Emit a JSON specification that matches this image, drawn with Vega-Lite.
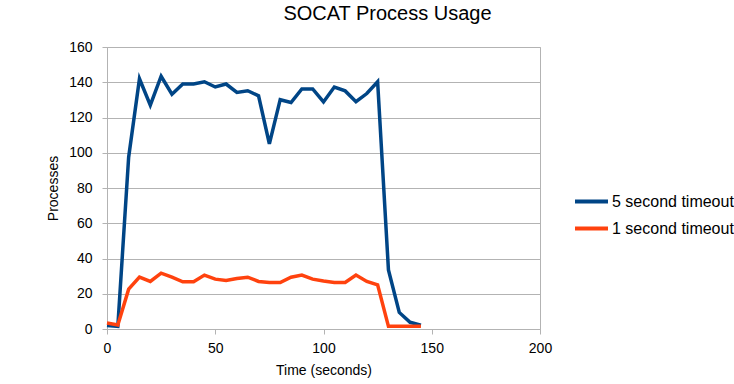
{
  "$schema": "https://vega.github.io/schema/vega-lite/v6.json",
  "width": 433,
  "height": 282,
  "autosize": {"type": "none"},
  "padding": {"left": 107, "top": 47, "right": 194, "bottom": 55},
  "background": "white",
  "title": {"text": "SOCAT Process Usage", "anchor": "middle", "dx": 64, "offset": 0, "baseline": "alphabetic", "font": "Liberation Sans", "fontSize": 20, "fontWeight": "normal", "color": "#000000"},
  "datasets": {
    "usage": [
      {"t": 0, "series": "5 second timeout", "v": 2},
      {"t": 5, "series": "5 second timeout", "v": 1.5},
      {"t": 10, "series": "5 second timeout", "v": 97.5},
      {"t": 15, "series": "5 second timeout", "v": 142},
      {"t": 20, "series": "5 second timeout", "v": 127},
      {"t": 25, "series": "5 second timeout", "v": 143.4},
      {"t": 30, "series": "5 second timeout", "v": 133.2},
      {"t": 35, "series": "5 second timeout", "v": 139},
      {"t": 40, "series": "5 second timeout", "v": 139},
      {"t": 45, "series": "5 second timeout", "v": 140.3},
      {"t": 50, "series": "5 second timeout", "v": 137.3},
      {"t": 55, "series": "5 second timeout", "v": 139},
      {"t": 60, "series": "5 second timeout", "v": 134.2},
      {"t": 65, "series": "5 second timeout", "v": 135.2},
      {"t": 70, "series": "5 second timeout", "v": 132.3},
      {"t": 75, "series": "5 second timeout", "v": 105},
      {"t": 80, "series": "5 second timeout", "v": 130.1},
      {"t": 85, "series": "5 second timeout", "v": 128.5},
      {"t": 90, "series": "5 second timeout", "v": 136.2},
      {"t": 95, "series": "5 second timeout", "v": 136.2},
      {"t": 100, "series": "5 second timeout", "v": 128.8},
      {"t": 105, "series": "5 second timeout", "v": 137.3},
      {"t": 110, "series": "5 second timeout", "v": 135.1},
      {"t": 115, "series": "5 second timeout", "v": 129},
      {"t": 120, "series": "5 second timeout", "v": 133.6},
      {"t": 125, "series": "5 second timeout", "v": 140.3},
      {"t": 130, "series": "5 second timeout", "v": 33.5},
      {"t": 135, "series": "5 second timeout", "v": 9.4},
      {"t": 140, "series": "5 second timeout", "v": 3.8},
      {"t": 145, "series": "5 second timeout", "v": 2.2},
      {"t": 0, "series": "1 second timeout", "v": 3.4},
      {"t": 5, "series": "1 second timeout", "v": 2.3},
      {"t": 10, "series": "1 second timeout", "v": 22.6},
      {"t": 15, "series": "1 second timeout", "v": 29.4},
      {"t": 20, "series": "1 second timeout", "v": 27},
      {"t": 25, "series": "1 second timeout", "v": 31.7},
      {"t": 30, "series": "1 second timeout", "v": 29.4},
      {"t": 35, "series": "1 second timeout", "v": 26.8},
      {"t": 40, "series": "1 second timeout", "v": 26.8},
      {"t": 45, "series": "1 second timeout", "v": 30.6},
      {"t": 50, "series": "1 second timeout", "v": 28.3},
      {"t": 55, "series": "1 second timeout", "v": 27.5},
      {"t": 60, "series": "1 second timeout", "v": 28.7},
      {"t": 65, "series": "1 second timeout", "v": 29.4},
      {"t": 70, "series": "1 second timeout", "v": 27},
      {"t": 75, "series": "1 second timeout", "v": 26.4},
      {"t": 80, "series": "1 second timeout", "v": 26.4},
      {"t": 85, "series": "1 second timeout", "v": 29.4},
      {"t": 90, "series": "1 second timeout", "v": 30.6},
      {"t": 95, "series": "1 second timeout", "v": 28.3},
      {"t": 100, "series": "1 second timeout", "v": 27.2},
      {"t": 105, "series": "1 second timeout", "v": 26.4},
      {"t": 110, "series": "1 second timeout", "v": 26.4},
      {"t": 115, "series": "1 second timeout", "v": 30.6},
      {"t": 120, "series": "1 second timeout", "v": 27},
      {"t": 125, "series": "1 second timeout", "v": 25.1},
      {"t": 130, "series": "1 second timeout", "v": 1.5},
      {"t": 135, "series": "1 second timeout", "v": 1.5},
      {"t": 140, "series": "1 second timeout", "v": 1.5},
      {"t": 145, "series": "1 second timeout", "v": 1.5}
    ]
  },
  "data": {"name": "usage"},
  "mark": {"type": "line", "strokeWidth": 3.5, "clip": false},
  "encoding": {
    "x": {
      "field": "t",
      "type": "quantitative",
      "scale": {"domain": [0, 200], "nice": false, "zero": false},
      "axis": {"title": "Time (seconds)", "values": [0, 50, 100, 150, 200], "grid": false, "tickSize": 5, "labelPadding": 7, "titlePadding": 8}
    },
    "y": {
      "field": "v",
      "type": "quantitative",
      "scale": {"domain": [0, 160], "nice": false},
      "axis": {"title": "Processes", "values": [0, 20, 40, 60, 80, 100, 120, 140, 160], "grid": true, "tickSize": 5, "labelPadding": 10, "titlePadding": 8}
    },
    "color": {
      "field": "series",
      "type": "nominal",
      "scale": {"domain": ["5 second timeout", "1 second timeout"], "range": ["#004586", "#ff420e"]},
      "legend": {
        "title": null,
        "orient": "none",
        "legendX": 466,
        "legendY": 136,
        "padding": 0,
        "symbolType": "stroke",
        "symbolSize": 1089,
        "symbolStrokeWidth": 4,
        "labelFont": "Liberation Sans",
        "labelFontSize": 16,
        "labelColor": "#000000",
        "labelOffset": 2,
        "labelLimit": 200,
        "rowPadding": -7
      }
    }
  },
  "config": {
    "view": {"stroke": "#b3b3b3", "strokeWidth": 1},
    "axis": {
      "labelFont": "Liberation Sans",
      "labelFontSize": 14,
      "labelColor": "#000000",
      "titleFont": "Liberation Sans",
      "titleFontSize": 14,
      "titleFontWeight": "normal",
      "titleColor": "#000000",
      "domainColor": "#b3b3b3",
      "tickColor": "#b3b3b3",
      "gridColor": "#b3b3b3",
      "gridOpacity": 1,
      "labelFlush": false,
      "labelOverlap": false
    }
  }
}
